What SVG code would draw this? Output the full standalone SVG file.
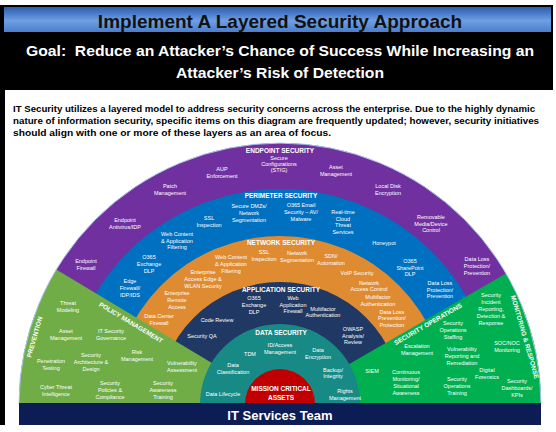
<svg xmlns="http://www.w3.org/2000/svg" width="556" height="432" viewBox="0 0 556 432">
<defs>
<linearGradient id="hdrGrad" x1="0" y1="0" x2="0" y2="1">
<stop offset="0" stop-color="#2c5cae"/>
<stop offset="0.55" stop-color="#6f9fe4"/>
<stop offset="1" stop-color="#4a7ecb"/>
</linearGradient>
<style>
.f{font-family:"Liberation Sans",Arial,sans-serif}
.lb{font-family:"Liberation Sans",Arial,sans-serif;font-size:5.5px;fill:#fff;text-anchor:middle}
.hd{font-family:"Liberation Sans",Arial,sans-serif;font-size:6.5px;font-weight:bold;fill:#fff;text-anchor:middle}
.pg{font-family:"Liberation Sans",Arial,sans-serif;font-size:9px;font-weight:bold;fill:#000}
</style>
</defs>
<rect x="0" y="0" width="556" height="432" fill="#fff"/>
<!-- frame -->
<rect x="0" y="5" width="553" height="85" fill="#000"/>
<rect x="0" y="5" width="5" height="420" fill="#000"/>
<rect x="4" y="7" width="547" height="25" fill="url(#hdrGrad)"/>
<text class="f" x="280" y="27.5" font-size="19" font-weight="bold" fill="#111" text-anchor="middle">Implement A Layered Security Approach</text>
<text class="f" x="280" y="56" font-size="15.5" font-weight="bold" fill="#fff" text-anchor="middle" textLength="508" lengthAdjust="spacingAndGlyphs">Goal:&#160; Reduce an Attacker’s Chance of Success While Increasing an</text>
<text class="f" x="280" y="78" font-size="15.5" font-weight="bold" fill="#fff" text-anchor="middle" textLength="208" lengthAdjust="spacingAndGlyphs">Attacker’s Risk of Detection</text>
<text class="pg" x="13" y="112" textLength="522" lengthAdjust="spacingAndGlyphs">IT Security utilizes a layered model to address security concerns across the enterprise. Due to the highly dynamic</text>
<text class="pg" x="13" y="124" textLength="526" lengthAdjust="spacingAndGlyphs">nature of information security, specific items on this diagram are frequently updated; however, security initiatives</text>
<text class="pg" x="13" y="136" textLength="318" lengthAdjust="spacingAndGlyphs">should align with one or more of these layers as an area of focus.</text>

<g id="endpoint-security">
<path d="M19 404 A261 261 0 0 1 541 404 Z" fill="#7030a0"/>
<text class="hd" x="280" y="152.5">ENDPOINT SECURITY</text>
<text class="lb" x="279" y="160">Secure<tspan x="279" dy="6.2">Configurations</tspan><tspan x="279" dy="6.2">(STIG)</tspan></text>
<text class="lb" x="222" y="171">AUP<tspan x="222" dy="6.6">Enforcement</tspan></text>
<text class="lb" x="170" y="188">Patch<tspan x="170" dy="6.6">Management</tspan></text>
<text class="lb" x="125" y="222">Endpoint<tspan x="125" dy="6.6">Antivirus/IDP</tspan></text>
<text class="lb" x="86" y="263">Endpoint<tspan x="86" dy="6.6">Firewall</tspan></text>
<text class="lb" x="336" y="169">Asset<tspan x="336" dy="6.6">Management</tspan></text>
<text class="lb" x="388" y="188">Local Disk<tspan x="388" dy="6.6">Encryption</tspan></text>
<text class="lb" x="431" y="219">Removable<tspan x="431" dy="6.6">Media/Device</tspan><tspan x="431" dy="6.6">Control</tspan></text>
<text class="lb" x="477" y="261">Data Loss<tspan x="477" dy="6.8">Protection/</tspan><tspan x="477" dy="6.8">Prevention</tspan></text>
</g>

<g id="perimeter-security">
<path d="M65 404 A215 215 0 0 1 495 404 Z" fill="#0070c0"/>
<text class="hd" x="281" y="198.3">PERIMETER SECURITY</text>
<text class="lb" x="249" y="208">Secure DMZs/<tspan x="249" dy="6.8">Network</tspan><tspan x="249" dy="6.8">Segmentation</tspan></text>
<text class="lb" x="301" y="207">O365 Email<tspan x="301" dy="6.8">Security – AV/</tspan><tspan x="301" dy="6.8">Malware</tspan></text>
<text class="lb" x="343" y="214">Real-time<tspan x="343" dy="6.6">Cloud</tspan><tspan x="343" dy="6.6">Threat</tspan><tspan x="343" dy="6.6">Services</tspan></text>
<text class="lb" x="209" y="220">SSL<tspan x="209" dy="7">Inspection</tspan></text>
<text class="lb" x="177" y="236">Web Content<tspan x="177" dy="6.6">&amp; Application</tspan><tspan x="177" dy="6.6">Filtering</tspan></text>
<text class="lb" x="149" y="259">O365<tspan x="149" dy="6.8">Exchange</tspan><tspan x="149" dy="6.8">DLP</tspan></text>
<text class="lb" x="130" y="283">Edge<tspan x="130" dy="6.8">Firewall/</tspan><tspan x="130" dy="6.8">IDP/IDS</tspan></text>
<text class="lb" x="384" y="245">Honeypot</text>
<text class="lb" x="410" y="263">O365<tspan x="410" dy="6.6">SharePoint</tspan><tspan x="410" dy="6.6">DLP</tspan></text>
<text class="lb" x="440" y="285">Data Loss<tspan x="440" dy="6.6">Protection/</tspan><tspan x="440" dy="6.6">Prevention</tspan></text>
</g>

<g id="network-security">
<path d="M112 404 A168 168 0 0 1 448 404 Z" fill="#df8b31"/>
<text class="hd" x="281" y="245.3">NETWORK SECURITY</text>
<text class="lb" x="264" y="254">SSL<tspan x="264" dy="7">Inspection</tspan></text>
<text class="lb" x="297" y="255">Network<tspan x="297" dy="6.6">Segmentation</tspan></text>
<text class="lb" x="331" y="258">SDN/<tspan x="331" dy="7">Automation</tspan></text>
<text class="lb" x="231" y="259">Web Content<tspan x="231" dy="6.8">&amp; Application</tspan><tspan x="231" dy="6.8">Filtering</tspan></text>
<text class="lb" x="203" y="274">Enterprise<tspan x="203" dy="6.8">Access Edge &amp;</tspan><tspan x="203" dy="6.8">WLAN Security</tspan></text>
<text class="lb" x="177" y="295">Enterprise<tspan x="177" dy="6.8">Remote</tspan><tspan x="177" dy="6.8">Access</tspan></text>
<text class="lb" x="159" y="318">Data Center<tspan x="159" dy="7">Firewall</tspan></text>
<text class="lb" x="357" y="275">VoIP Security</text>
<text class="lb" x="369" y="285">Network<tspan x="369" dy="6.3">Access Control</tspan></text>
<text class="lb" x="378" y="299">Multifactor<tspan x="378" dy="6.8">Authentication</tspan></text>
<text class="lb" x="392" y="314">Data Loss<tspan x="392" dy="6.3">Prevention/</tspan><tspan x="392" dy="6.3">Protection</tspan></text>
</g>

<g id="application-security">
<path d="M158 404 A122 122 0 0 1 402 404 Z" fill="#1f3864"/>
<text class="hd" x="281" y="292.3">APPLICATION SECURITY</text>
<text class="lb" x="254" y="300">O365<tspan x="254" dy="6.8">Exchange</tspan><tspan x="254" dy="6.8">DLP</tspan></text>
<text class="lb" x="293" y="300">Web<tspan x="293" dy="6.6">Application</tspan><tspan x="293" dy="6.6">Firewall</tspan></text>
<text class="lb" x="323" y="311">Multifactor<tspan x="323" dy="6.2">Authentication</tspan></text>
<text class="lb" x="217" y="322">Code Review</text>
<text class="lb" x="202" y="338">Security QA</text>
<text class="lb" x="353" y="331">OWASP<tspan x="353" dy="6.6">Analysis/</tspan><tspan x="353" dy="6.6">Review</tspan></text>
</g>

<g id="prevention-policy-management">
<path d="M280 404 L19 404 A261 261 0 0 1 56.3 269.6 Z" fill="#70ad47"/>
<text class="hd" transform="translate(131 322.5) rotate(31)" x="0" y="2.3">POLICY MANAGEMENT</text>
<text class="hd" transform="translate(34.5 337) rotate(-74)" x="0" y="2.3">PREVENTION</text>
<text class="lb" x="68" y="305">Threat<tspan x="68" dy="6.8">Modeling</tspan></text>
<text class="lb" x="66" y="333">Asset<tspan x="66" dy="6.8">Management</tspan></text>
<text class="lb" x="111" y="333">IT Security<tspan x="111" dy="6.8">Governance</tspan></text>
<text class="lb" x="51" y="363">Penetration<tspan x="51" dy="7">Testing</tspan></text>
<text class="lb" x="91" y="357">Security<tspan x="91" dy="6.8">Architecture &amp;</tspan><tspan x="91" dy="6.8">Design</tspan></text>
<text class="lb" x="137" y="354">Risk<tspan x="137" dy="7">Management</tspan></text>
<text class="lb" x="182" y="365">Vulnerability<tspan x="182" dy="6.6">Assessment</tspan></text>
<text class="lb" x="56" y="389">Cyber Threat<tspan x="56" dy="6.6">Intelligence</tspan></text>
<text class="lb" x="110" y="385">Security<tspan x="110" dy="6.8">Policies &amp;</tspan><tspan x="110" dy="6.8">Compliance</tspan></text>
<text class="lb" x="163" y="385">Security<tspan x="163" dy="6.8">Awareness</tspan><tspan x="163" dy="6.8">Training</tspan></text>
</g>

<g id="security-operations-monitoring">
<path d="M280 404 L506 273.5 A261 261 0 0 1 541 404 Z" fill="#00b050"/>
<text class="hd" transform="translate(428 324) rotate(-30)" x="0" y="2.3">SECURITY OPERATIONS</text>
<text class="hd" transform="translate(525 337) rotate(74)" x="0" y="2.3">MONITORING &amp; RESPONSE</text>
<text class="lb" x="491" y="297">Security<tspan x="491" dy="7">Incident</tspan><tspan x="491" dy="7">Reporting,</tspan><tspan x="491" dy="7">Detection &amp;</tspan><tspan x="491" dy="7">Response</tspan></text>
<text class="lb" x="453" y="325">Security<tspan x="453" dy="7">Operations</tspan><tspan x="453" dy="7">Staffing</tspan></text>
<text class="lb" x="507" y="345">SOC/NOC<tspan x="507" dy="7">Monitoring</tspan></text>
<text class="lb" x="417" y="348">Escalation<tspan x="417" dy="7">Management</tspan></text>
<text class="lb" x="462" y="351">Vulnerability<tspan x="462" dy="7">Reporting and</tspan><tspan x="462" dy="7">Remediation</tspan></text>
<text class="lb" x="372" y="373">SIEM</text>
<text class="lb" x="487" y="372">Digital<tspan x="487" dy="7">Forensics</tspan></text>
<text class="lb" x="406" y="374">Continuous<tspan x="406" dy="7">Monitoring/</tspan><tspan x="406" dy="7">Situational</tspan><tspan x="406" dy="7">Awareness</tspan></text>
<text class="lb" x="457" y="381">Security<tspan x="457" dy="7">Operations</tspan><tspan x="457" dy="7">Training</tspan></text>
<text class="lb" x="517" y="383">Security<tspan x="517" dy="7">Dashboards/</tspan><tspan x="517" dy="7">KPIs</tspan></text>
</g>

<path d="M19 404 A261 261 0 0 1 541 404" fill="none" stroke="#a9c6e8" stroke-width="1"/>

<g id="data-security">
<path d="M200 404 A80 80 0 0 1 360 404 Z" fill="#178a86"/>
<text class="hd" x="281" y="335.3">DATA SECURITY</text>
<text class="lb" x="280" y="347">ID/Access<tspan x="280" dy="7">Management</tspan></text>
<text class="lb" x="250" y="356">TDM</text>
<text class="lb" x="318" y="352">Data<tspan x="318" dy="7">Encryption</tspan></text>
<text class="lb" x="233" y="367">Data<tspan x="233" dy="7">Classification</tspan></text>
<text class="lb" x="333" y="372">Backup/<tspan x="333" dy="6.4">Integrity</tspan></text>
<text class="lb" x="223" y="396">Data Lifecycle</text>
<text class="lb" x="345" y="393">Rights<tspan x="345" dy="7">Management</tspan></text>
</g>

<g id="mission-critical-assets">
<path d="M245 404 A35 35 0 0 1 315 404 Z" fill="#c00000"/>
<text class="hd" x="281" y="391.3" font-size="6.3">MISSION CRITICAL</text>
<text class="hd" x="281" y="400.3" font-size="6.3">ASSETS</text>
</g>

<g id="it-services-team">
<rect x="19" y="403" width="522" height="22" fill="#0c1d56"/>
<text class="f" x="280" y="419.5" font-size="13" font-weight="bold" fill="#fff" text-anchor="middle">IT Services Team</text>
</g>

<g id="connectors"></g>
</svg>
